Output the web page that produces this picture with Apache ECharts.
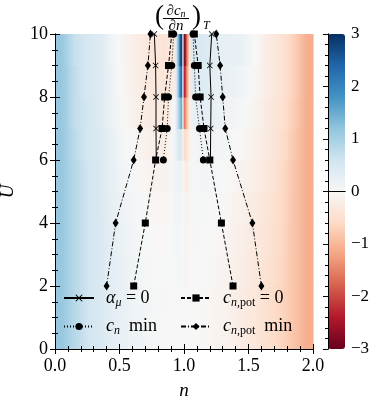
<!DOCTYPE html>
<html>
<head>
<meta charset="utf-8">
<script src="https://cdn.jsdelivr.net/npm/echarts@6/dist/echarts.min.js"></script>
<style>
html, body { margin: 0; padding: 0; background: #fff; }
#chart { width: 381px; height: 403px; }
</style>
</head>
<body>
<div id="chart"></div>
<script>
// heatmap cells: column edges in n, row edges in U, values bottom row first
const nEdges = [0, 0.1, 0.2, 0.3, 0.4, 0.5, 0.6, 0.7, 0.8, 0.9, 0.94, 0.965, 0.99, 1.015, 1.04, 1.1, 1.2, 1.3, 1.4, 1.5, 1.6, 1.7, 1.8, 1.9, 2.0]
const uEdges = [0, 1, 2, 3, 4, 5, 6, 7, 8, 9, 10]
const cellValues = [
  [1.15, 0.85, 0.6, 0.45, 0.3, 0.2, 0.12, 0.05, 0.02, 0.0, 0.0, 0.0, 0.0, 0.0, 0.0, -0.02, -0.08, -0.15, -0.25, -0.35, -0.5, -0.65, -0.85, -1.1],
  [1.15, 0.85, 0.6, 0.45, 0.3, 0.2, 0.1, 0.05, 0.02, 0.02, 0.03, 0.02, -0.02, -0.03, 0.0, -0.02, -0.08, -0.15, -0.25, -0.35, -0.5, -0.65, -0.85, -1.1],
  [1.15, 0.85, 0.6, 0.45, 0.3, 0.18, 0.08, 0.02, 0.0, 0.03, 0.05, 0.04, -0.04, -0.05, 0.0, 0.0, -0.06, -0.12, -0.22, -0.32, -0.45, -0.62, -0.85, -1.1],
  [1.15, 0.85, 0.6, 0.45, 0.28, 0.15, 0.05, -0.02, -0.03, 0.05, 0.08, 0.06, -0.06, -0.08, 0.02, 0.02, -0.03, -0.1, -0.2, -0.3, -0.42, -0.6, -0.85, -1.1],
  [1.15, 0.85, 0.6, 0.45, 0.25, 0.12, 0.02, -0.05, -0.06, 0.08, 0.12, 0.1, -0.1, -0.12, 0.03, 0.05, 0.0, -0.06, -0.15, -0.25, -0.4, -0.58, -0.85, -1.1],
  [1.15, 0.85, 0.6, 0.45, 0.22, 0.08, -0.03, -0.1, -0.12, 0.1, 0.2, 0.15, -0.2, -0.2, 0.05, 0.08, 0.04, -0.02, -0.1, -0.2, -0.35, -0.55, -0.85, -1.1],
  [1.15, 0.8, 0.55, 0.45, 0.2, 0.02, -0.1, -0.18, -0.2, 0.1, 0.45, 0.5, -0.6, -0.35, 0.05, 0.15, 0.1, 0.05, -0.05, -0.15, -0.3, -0.5, -0.8, -1.1],
  [1.15, 0.75, 0.55, 0.4, 0.15, -0.05, -0.2, -0.28, -0.3, 0.0, 0.8, 1.5, -1.6, -0.7, 0.25, 0.3, 0.2, 0.12, 0.05, -0.1, -0.3, -0.45, -0.75, -1.1],
  [1.15, 0.75, 0.5, 0.4, 0.12, -0.08, -0.22, -0.32, -0.38, -0.2, 1.1, 2.4, -2.4, -1.0, 0.4, 0.4, 0.25, 0.2, 0.12, -0.05, -0.25, -0.4, -0.7, -1.1],
  [1.15, 0.7, 0.5, 0.4, 0.1, -0.1, -0.25, -0.35, -0.4, -0.3, 1.3, 2.9, -2.9, -1.2, 0.5, 0.45, 0.3, 0.25, 0.2, 0.0, -0.25, -0.4, -0.7, -1.1]
]

// line data: U values and n positions of left / right branches
const potU = [2, 4, 6, 7, 8, 9, 10]
const potMinLeft = [0.40, 0.47, 0.61, 0.66, 0.69, 0.72, 0.74]
const potMinRight = [1.60, 1.53, 1.38, 1.32, 1.30, 1.28, 1.25]
const potZeroLeft = [0.61, 0.70, 0.78, 0.83, 0.85, 0.88, 0.905]
const potZeroRight = [1.38, 1.29, 1.20, 1.155, 1.125, 1.11, 1.08]
const cnU = [6, 7, 8, 9, 10]
const cnMinLeft = [0.84, 0.87, 0.88, 0.905, 0.92]
const cnMinRight = [1.15, 1.12, 1.09, 1.08, 1.07]
const alphaU = [6, 7, 8, 9, 10]
const alphaLeft = [0.785, 0.783, 0.783, 0.78, 0.77]
const alphaRight = [1.205, 1.207, 1.21, 1.20, 1.215]

const rdbu = ['#67001f', '#b2182b', '#d6604d', '#f4a582', '#fddbc7', '#f7f7f7', '#d1e5f0', '#92c5de', '#4393c3', '#2166ac', '#053061']
const vMin = -3
const vMax = 3
const serif = 'Liberation Serif'
const crossPath = 'path://M0,1L1,0L5,4L9,0L10,1L6,5L10,9L9,10L5,6L1,10L0,9L4,5Z'

const chart = echarts.init(document.getElementById('chart'))

const cells = []
cellValues.forEach((row, j) => {
  row.forEach((v, i) => {
    cells.push([nEdges[i], nEdges[i + 1], uEdges[j], uEdges[j + 1], v, i, j])
  })
})

function colorOf (v) {
  return echarts.color.lerp((v - vMin) / (vMax - vMin), rdbu)
}

// shade each cell across its width so neighbouring columns blend like imshow
function cellFill (i, j, centre) {
  const row = cellValues[j]
  const v = row[i]
  const left = i > 0 ? (v + row[i - 1]) / 2 : v
  const right = i < row.length - 1 ? (v + row[i + 1]) / 2 : v
  return {
    type: 'linear', x: 0, y: 0, x2: 1, y2: 0,
    colorStops: [
      { offset: 0, color: colorOf(left) },
      { offset: 0.5, color: centre },
      { offset: 1, color: colorOf(right) }
    ]
  }
}

function pairs (xs, ys) {
  return xs.map((x, i) => [x, ys[i]])
}

function lineSeries (name, xs, ys, symbol, size, type) {
  return {
    name: name,
    type: 'line',
    xAxisIndex: 0,
    yAxisIndex: 0,
    data: pairs(xs, ys),
    symbol: symbol,
    symbolSize: size,
    showAllSymbol: true,
    clip: false,
    z: 5,
    lineStyle: { color: '#000', width: 1, type: type },
    itemStyle: { color: '#000' },
    emphasis: { disabled: true }
  }
}

const axisBlack = { lineStyle: { color: '#000', width: 1 } }
const labelStyle = { color: '#000', fontFamily: serif, fontSize: 18 }

const rich = {
  i: { fontFamily: serif, fontStyle: 'italic', fontSize: 18, color: '#000' },
  s: { fontFamily: serif, fontStyle: 'italic', fontSize: 12, color: '#000', padding: [9, 0, 0, 0] },
  t: { fontFamily: serif, fontSize: 12, color: '#000', padding: [9, 0, 0, 0] },
  r: { fontFamily: serif, fontSize: 18, color: '#000' }
}
const legendText = {
  alpha: '{i|α}{s|μ}{r| = 0}',
  cnmin: '{i|c}{s|n}{r|  min}',
  cnpot0: '{i|c}{s|n}{t|,pot}{r| = 0}',
  cnpotmin: '{i|c}{s|n}{t|,pot}{r|  min}'
}

function legendBox (names, left) {
  return {
    data: names,
    left: left,
    top: 289,
    orient: 'vertical',
    padding: 0,
    itemWidth: 30,
    itemHeight: 9,
    itemGap: 9,
    selectedMode: false,
    formatter: name => legendText[name],
    textStyle: { rich: rich, padding: [0, 0, 0, 7] }
  }
}

const option = {
  animation: false,
  backgroundColor: '#fff',
  grid: [
    { left: 55, top: 34, width: 258, height: 315, outerBoundsMode: 'none' },
    { left: 328, top: 34, width: 17, height: 315, outerBoundsMode: 'none' }
  ],
  xAxis: [
    {
      gridIndex: 0, type: 'value', min: 0, max: 2, interval: 0.5, position: 'bottom',
      axisLine: axisBlack,
      axisTick: { inside: true, length: 5, lineStyle: { color: '#000' } },
      minorTick: { show: true, splitNumber: 5, length: 3, lineStyle: { color: '#000' } },
      splitLine: { show: false },
      axisLabel: Object.assign({ margin: 8, formatter: v => v.toFixed(1) }, labelStyle),
      name: 'n', nameLocation: 'middle', nameGap: 32,
      nameTextStyle: { color: '#000', fontFamily: serif, fontStyle: 'italic', fontSize: 19 },
      z: 10
    },
    {
      gridIndex: 0, type: 'value', min: 0, max: 2, interval: 0.5, position: 'top',
      axisLine: axisBlack,
      axisTick: { inside: true, length: 5, lineStyle: { color: '#000' } },
      minorTick: { show: true, splitNumber: 5, length: 3, lineStyle: { color: '#000' } },
      splitLine: { show: false },
      axisLabel: { show: false },
      z: 10
    },
    {
      gridIndex: 1, type: 'value', min: 0, max: 1, position: 'bottom',
      axisLine: axisBlack, axisTick: { show: false }, splitLine: { show: false }, axisLabel: { show: false }, z: 10
    },
    {
      gridIndex: 1, type: 'value', min: 0, max: 1, position: 'top',
      axisLine: axisBlack, axisTick: { show: false }, splitLine: { show: false }, axisLabel: { show: false }, z: 10
    }
  ],
  yAxis: [
    {
      gridIndex: 0, type: 'value', min: 0, max: 10, interval: 2, position: 'left',
      axisLine: axisBlack,
      axisTick: { inside: true, length: 5, lineStyle: { color: '#000' } },
      minorTick: { show: true, splitNumber: 4, length: 3, lineStyle: { color: '#000' } },
      splitLine: { show: false },
      axisLabel: Object.assign({ margin: 7 }, labelStyle),
      name: 'U', nameLocation: 'middle', nameGap: 38, nameRotate: 90,
      nameTextStyle: { color: '#000', fontFamily: serif, fontStyle: 'italic', fontSize: 19 },
      z: 10
    },
    {
      gridIndex: 0, type: 'value', min: 0, max: 10, interval: 2, position: 'right',
      axisLine: axisBlack,
      axisTick: { inside: true, length: 5, lineStyle: { color: '#000' } },
      minorTick: { show: true, splitNumber: 4, length: 3, lineStyle: { color: '#000' } },
      splitLine: { show: false },
      axisLabel: { show: false },
      z: 10
    },
    {
      gridIndex: 1, type: 'value', min: -3, max: 3, position: 'left',
      axisLine: axisBlack, axisTick: { show: false }, splitLine: { show: false }, axisLabel: { show: false }, z: 10
    },
    {
      gridIndex: 1, type: 'value', min: -3, max: 3, interval: 1, position: 'right',
      axisLine: axisBlack,
      axisTick: { inside: true, length: 5, lineStyle: { color: '#000' } },
      minorTick: { show: true, splitNumber: 5, length: 3, lineStyle: { color: '#000' } },
      splitLine: { show: false },
      axisLabel: Object.assign({ margin: 6, formatter: v => v < 0 ? '\u2212' + (-v) : String(v) }, labelStyle, { fontSize: 17 }),
      z: 10
    }
  ],
  visualMap: {
    type: 'continuous',
    min: vMin,
    max: vMax,
    seriesIndex: 0,
    dimension: 4,
    orient: 'vertical',
    left: 328,
    top: 34,
    padding: 0,
    itemWidth: 17,
    itemHeight: 315,
    calculable: false,
    hoverLink: false,
    inRange: { color: rdbu }
  },
  legend: [
    legendBox(['alpha', 'cnmin'], 63),
    legendBox(['cnpot0', 'cnpotmin'], 180)
  ],
  graphic: [
    { type: 'text', x: 155, y: 3, style: { text: '(', font: '27px "Liberation Serif"', fill: '#000' } },
    { type: 'text', x: 176, y: 3, style: { text: '{a|∂c}{b|n}', align: 'center', rich: { a: { fontFamily: serif, fontStyle: 'italic', fontSize: 15, fill: '#000' }, b: { fontFamily: serif, fontStyle: 'italic', fontSize: 10, padding: [6, 0, 0, 0], fill: '#000' } } } },
    { type: 'line', shape: { x1: 163, y1: 18.5, x2: 189, y2: 18.5 }, style: { stroke: '#000', lineWidth: 1 } },
    { type: 'text', x: 176, y: 19, style: { text: '∂n', align: 'center', font: 'italic 15px "Liberation Serif"', fill: '#000' } },
    { type: 'text', x: 192, y: 3, style: { text: ')', font: '27px "Liberation Serif"', fill: '#000' } },
    { type: 'text', x: 203, y: 20, style: { text: 'T', font: 'italic 12px "Liberation Serif"', fill: '#000' } }
  ],
  series: [
    {
      type: 'custom',
      xAxisIndex: 0,
      yAxisIndex: 0,
      data: cells,
      encode: { x: [0, 1], y: [2, 3] },
      silent: true,
      z: 1,
      renderItem: (params, api) => {
        const p0 = api.coord([api.value(0), api.value(3)])
        const p1 = api.coord([api.value(1), api.value(2)])
        return {
          type: 'rect',
          shape: { x: p0[0], y: p0[1], width: p1[0] - p0[0] + 0.6, height: p1[1] - p0[1] + 0.6 },
          style: { fill: cellFill(api.value(5), api.value(6), api.visual('color')) }
        }
      }
    },
    lineSeries('alpha', alphaLeft, alphaU, crossPath, 6, 'solid'),
    lineSeries('alpha', alphaRight, alphaU, crossPath, 6, 'solid'),
    lineSeries('cnmin', cnMinLeft, cnU, 'circle', 7, [1, 2]),
    lineSeries('cnmin', cnMinRight, cnU, 'circle', 7, [1, 2]),
    lineSeries('cnpot0', potZeroLeft, potU, 'rect', 7, [4, 2]),
    lineSeries('cnpot0', potZeroRight, potU, 'rect', 7, [4, 2]),
    lineSeries('cnpotmin', potMinLeft, potU, 'diamond', [6, 9], [5, 2, 1, 2]),
    lineSeries('cnpotmin', potMinRight, potU, 'diamond', [6, 9], [5, 2, 1, 2])
  ]
}

chart.setOption(option)
</script>
</body>
</html>
